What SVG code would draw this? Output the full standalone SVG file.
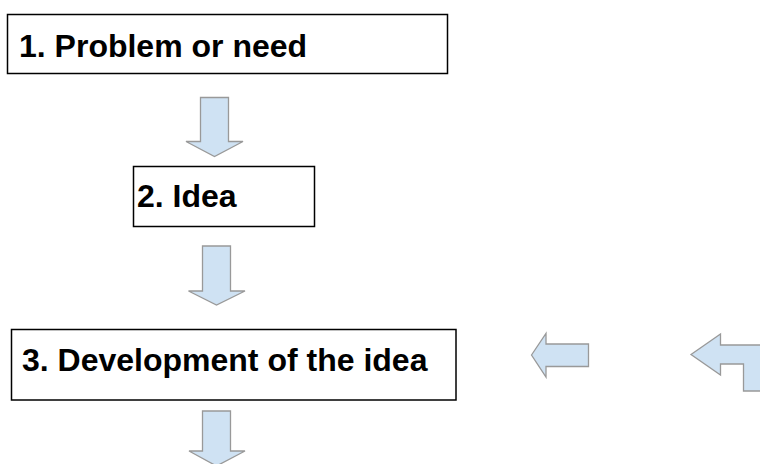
<svg xmlns="http://www.w3.org/2000/svg" width="760" height="464" viewBox="0 0 760 464">
<style>
.box{fill:#ffffff;stroke:#000000;stroke-width:1.5}
.lbl{font-family:"Liberation Sans",Arial,sans-serif;font-weight:bold;font-size:32px;fill:#000000}
.arr{fill:#cfe2f3;stroke:#999999;stroke-width:1.3;stroke-linejoin:miter}
</style>
<rect width="760" height="464" fill="#ffffff"/>
<g id="node1">
<rect class="box" x="7.5" y="14.5" width="440" height="59"/>
<text class="lbl" x="19" y="57">1. Problem or need</text>
</g>
<g id="node2">
<rect class="box" x="133.5" y="166.5" width="181" height="60"/>
<text class="lbl" x="137" y="207">2. Idea</text>
</g>
<g id="node3">
<rect class="box" x="11.5" y="329.5" width="444.5" height="70.5"/>
<text class="lbl" x="22" y="371">3. Development of the idea</text>
</g>
<g id="connectors">
<path class="arr" d="M200.5,97.5 L228.5,97.5 L228.5,141.5 L243,141.5 L214.5,156.5 L186,141.5 L200.5,141.5 Z"/>
<path class="arr" d="M202.5,246 L230.5,246 L230.5,291 L245,291 L216.5,305 L188.5,291 L202.5,291 Z"/>
<path class="arr" d="M202.5,411 L230.5,411 L230.5,451 L245,451 L216.5,466 L189,451 L202.5,451 Z"/>
<path class="arr" d="M531.5,355 L546,333.5 L546,344 L588.5,344 L588.5,366.5 L546,366.5 L546,377 Z"/>
<path class="arr" d="M691,354.5 L720.5,334 L720.5,345 L775,345 L775,391 L743.5,391 L743.5,364 L720.5,364 L720.5,375 Z"/>
</g>
</svg>
